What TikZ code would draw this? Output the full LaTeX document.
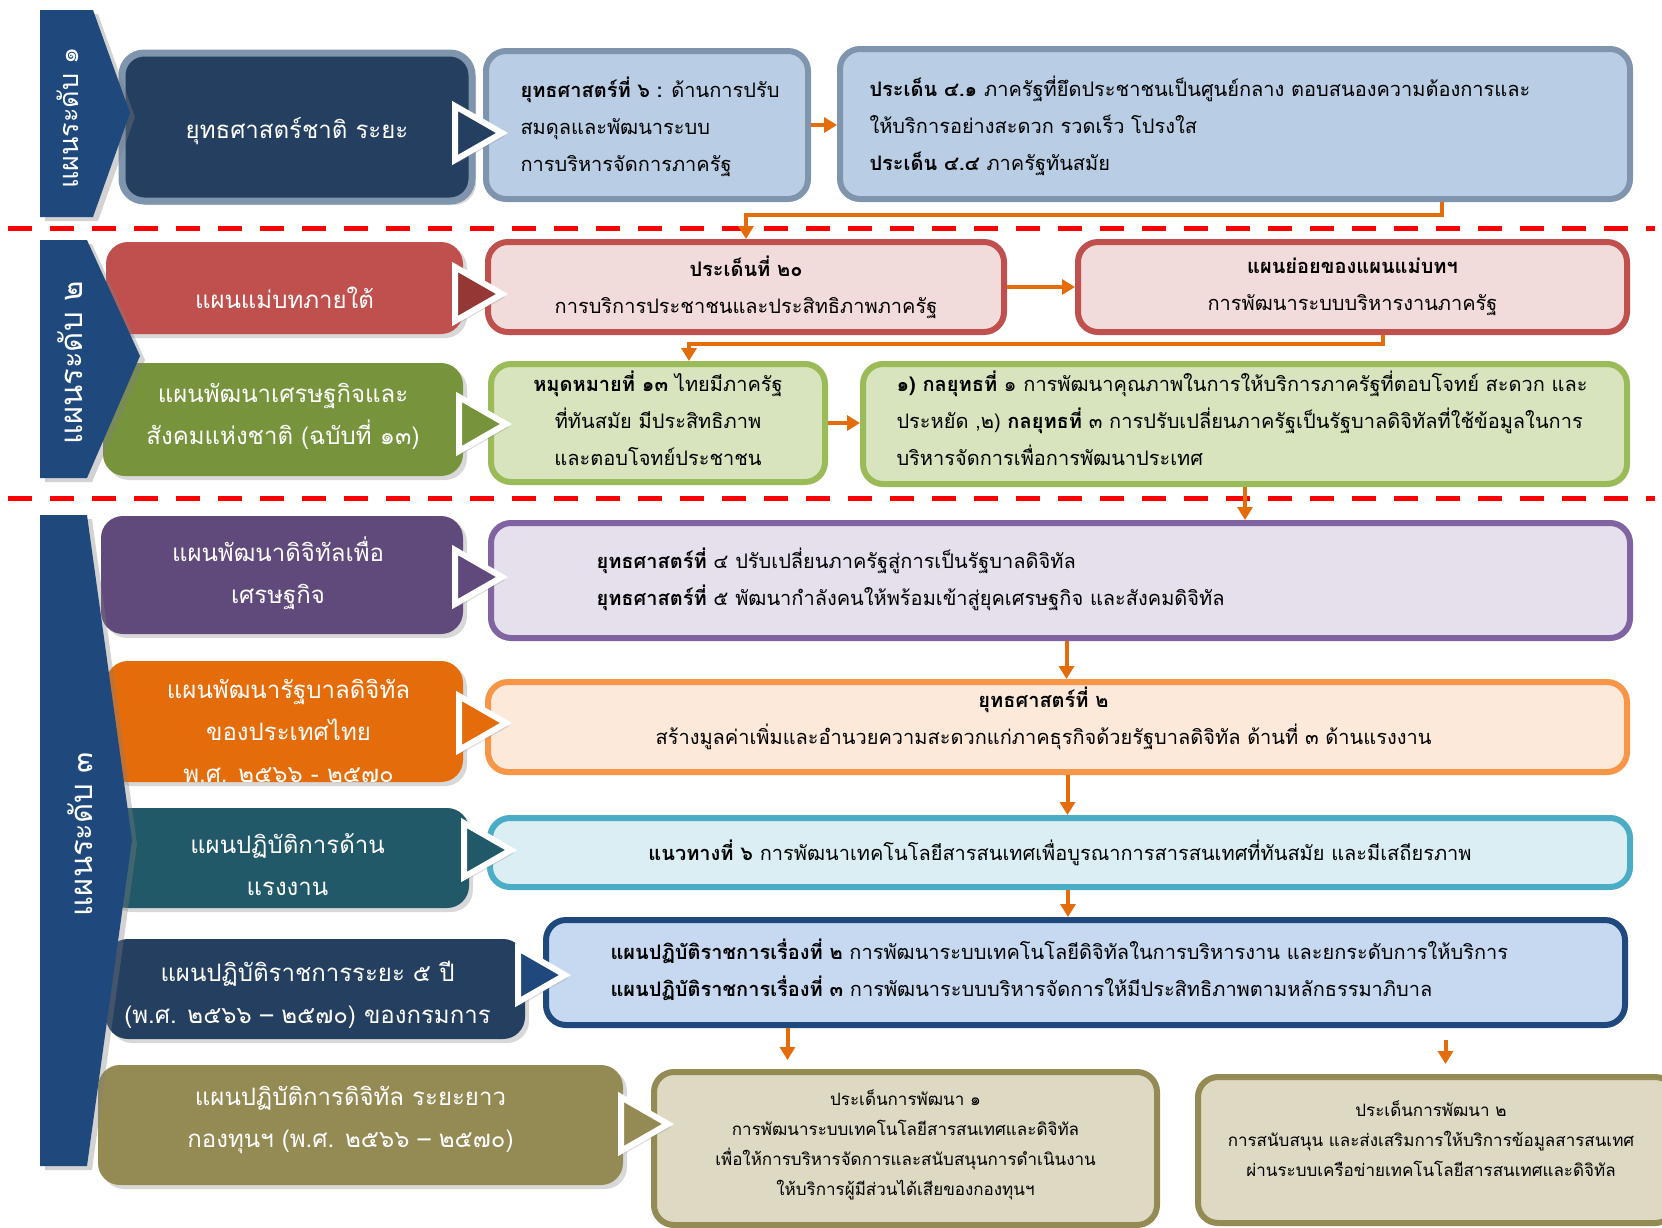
\documentclass[tikz,border=0pt]{standalone}
\usepackage{fontspec}
\setmainfont[Script=Thai]{Loma}
\usetikzlibrary{positioning}
\usetikzlibrary{calc}
\usetikzlibrary{arrows.meta}
\usetikzlibrary{shadows}

\definecolor{bannerblue}{HTML}{1F497D}
\definecolor{navyfill}{HTML}{243F60}
\definecolor{steelline}{HTML}{7E95AD}
\definecolor{skyfill}{HTML}{B9CDE5}
\definecolor{brickfill}{HTML}{C0504D}
\definecolor{brickdark}{HTML}{953735}
\definecolor{rosefill}{HTML}{F2DCDB}
\definecolor{olivefill}{HTML}{77933C}
\definecolor{limeline}{HTML}{9BBB59}
\definecolor{limefill}{HTML}{D7E4BD}
\definecolor{plumfill}{HTML}{604A7B}
\definecolor{lilacline}{HTML}{8064A2}
\definecolor{lilacfill}{HTML}{E5E0EC}
\definecolor{pumpkinfill}{HTML}{E46C0A}
\definecolor{apricotline}{HTML}{F79646}
\definecolor{apricotfill}{HTML}{FDE9D9}
\definecolor{tealfill}{HTML}{215968}
\definecolor{aqualine}{HTML}{4BACC6}
\definecolor{aquafill}{HTML}{DAEEF3}
\definecolor{palebluefill}{HTML}{C6D9F1}
\definecolor{khakifill}{HTML}{948A54}
\definecolor{sandfill}{HTML}{DDD9C3}
\definecolor{flowcolor}{HTML}{E46C0A}

\tikzset{
  planbox/.style={rounded corners=22pt, fill=#1,
    drop shadow={opacity=0.3, shadow xshift=4pt, shadow yshift=-4pt}},
  plantext/.style={text=white, align=center, font=\fontsize{24}{42}\selectfont},
  itembox/.style 2 args={rounded corners=20pt, draw=#1, fill=#2, line width=6pt,
    align=center, font=\fontsize{20}{37}\selectfont},
  itemtext/.style={align=left, font=\fontsize{20}{37}\selectfont},
  leveltext/.style={rotate=90, text=white},
  banner/.style={fill=bannerblue, drop shadow={opacity=0.35, shadow xshift=5pt, shadow yshift=-4pt}},
  navtri/.style={draw=white, line width=6pt, line join=miter,
    drop shadow={opacity=0.3, shadow xshift=3pt, shadow yshift=-3pt}},
  flowarrow/.style={draw=flowcolor, line width=4pt, -{Triangle[width=15pt,length=13pt]}},
  levelsep/.style={draw=red, line width=5pt, dash pattern=on 24pt off 18pt},
}

\newcommand{\navpointer}[3]{%
  \filldraw[navtri, fill=#3] (#1-52,#2-27) -- (#1-5,#2) -- (#1-52,#2+27) -- cycle;}

\begin{document}
\begin{tikzpicture}[x=1pt, y=-1pt]
  \fill[white] (0,0) rectangle (1662,1227);
  \useasboundingbox (0,0) rectangle (1662,1227);

  % separators between the levels
  \draw[levelsep] (8,228) -- (1655,228);
  \draw[levelsep] (8,498) -- (1655,498);

  % level 1
  \node[planbox=navyfill, draw=steelline, line width=7pt, minimum width=350pt, minimum height=148pt] (a1) at (297,127) {};
  \node[plantext] (a1txt) at ([yshift=-4pt]a1.center) {ยุทธศาสตร์ชาติ ระยะ};
  \node[itembox={steelline}{skyfill}, minimum width=322pt, minimum height=148pt] (b1) at (647,125) {};
  \node[itemtext, anchor=west] (b1txt) at ([xshift=34pt, yshift=-2pt]b1.west) {\textbf{ยุทธศาสตร์ที่ ๖ :} ด้านการปรับ\\สมดุลและพัฒนาระบบ\\การบริหารจัดการภาครัฐ};
  \node[itembox={steelline}{skyfill}, minimum width=790pt, minimum height=150pt] (c1) at (1235,124) {};
  \node[itemtext, anchor=west] (c1txt) at ([xshift=29pt, yshift=-2pt]c1.west) {\textbf{ประเด็น ๔.๑} ภาครัฐที่ยึดประชาชนเป็นศูนย์กลาง ตอบสนองความต้องการและ\\ให้บริการอย่างสะดวก รวดเร็ว โปรงใส\\\textbf{ประเด็น ๔.๔} ภาครัฐทันสมัย};

  % level 2
  \node[planbox=brickfill, minimum width=357pt, minimum height=92pt] (a2) at (284.5,288) {};
  \node[plantext] (a2txt) at ([yshift=-10pt]a2.center) {แผนแม่บทภายใต้};
  \node[itembox={brickfill}{rosefill}, minimum width=516pt, minimum height=90pt] (b2) at (746,287) {\textbf{ประเด็นที่ ๒๐}\\การบริการประชาชนและประสิทธิภาพภาครัฐ};
  \node[itembox={brickfill}{rosefill}, minimum width=549pt, minimum height=90pt] (c2) at (1352.5,287) {\textbf{แผนย่อยของแผนแม่บทฯ}\\การพัฒนาระบบบริหารงานภาครัฐ};

  \node[planbox=olivefill, minimum width=360pt, minimum height=113pt] (a3) at (283,419.5) {};
  \node[plantext] (a3txt) at ([yshift=3pt]a3.center) {แผนพัฒนาเศรษฐกิจและ\\สังคมแห่งชาติ (ฉบับที่ ๑๓)};
  \node[itembox={limeline}{limefill}, minimum width=334pt, minimum height=118pt] (b3) at (658,423) {};
  \node[itemtext, align=center] (b3txt) at ([yshift=5pt]b3.center) {\textbf{หมุดหมายที่ ๑๓} ไทยมีภาครัฐ\\ที่ทันสมัย มีประสิทธิภาพ\\และตอบโจทย์ประชาชน};
  \node[itembox={limeline}{limefill}, minimum width=764pt, minimum height=120pt] (c3) at (1245,424) {};
  \node[itemtext, anchor=west] (c3txt) at ([xshift=33pt, yshift=6pt]c3.west) {\textbf{๑) กลยุทธที่} ๑ การพัฒนาคุณภาพในการให้บริการภาครัฐที่ตอบโจทย์ สะดวก และ\\ประหยัด ,๒) \textbf{กลยุทธที่} ๓ การปรับเปลี่ยนภาครัฐเป็นรัฐบาลดิจิทัลที่ใช้ข้อมูลในการ\\บริหารจัดการเพื่อการพัฒนาประเทศ};

  % level 3
  \node[planbox=plumfill, minimum width=362pt, minimum height=118pt] (a4) at (282,575) {};
  \node[plantext] (a4txt) at ([xshift=-4pt, yshift=2pt]a4.center) {แผนพัฒนาดิจิทัลเพื่อ\\เศรษฐกิจ};
  \node[itembox={lilacline}{lilacfill}, minimum width=1139pt, minimum height=115pt] (b4) at (1060.5,580.5) {};
  \node[itemtext, anchor=west] (b4txt) at ([xshift=105pt, yshift=1pt]b4.west) {\textbf{ยุทธศาสตร์ที่} ๔ ปรับเปลี่ยนภาครัฐสู่การเป็นรัฐบาลดิจิทัล\\\textbf{ยุทธศาสตร์ที่} ๕ พัฒนากำลังคนให้พร้อมเข้าสู่ยุคเศรษฐกิจ และสังคมดิจิทัล};

  \node[planbox=pumpkinfill, minimum width=357pt, minimum height=121pt] (a5) at (284.5,721.5) {};
  \begin{scope}
    \clip (a5.south west) rectangle (a5.north east);
    \node[plantext] (a5txt) at ([xshift=4pt, yshift=-9pt]a5.center) {แผนพัฒนารัฐบาลดิจิทัล\\ของประเทศไทย\\พ.ศ. ๒๕๖๖ - ๒๕๗๐};
  \end{scope}
  \node[itembox={apricotline}{apricotfill}, minimum width=1139pt, minimum height=90pt] (b5) at (1057.5,727) {};
  \node[itemtext, align=center] (b5txt) at ([xshift=-14pt, yshift=9pt]b5.center) {\textbf{ยุทธศาสตร์ที่ ๒}\\สร้างมูลค่าเพิ่มและอำนวยความสะดวกแก่ภาคธุรกิจด้วยรัฐบาลดิจิทัล ด้านที่ ๓ ด้านแรงงาน};

  \node[planbox=tealfill, minimum width=363pt, minimum height=100pt] (a6) at (287.5,858) {};
  \node[plantext] (a6txt) at ([yshift=-7pt]a6.center) {แผนปฏิบัติการด้าน\\แรงงาน};
  \node[itembox={aqualine}{aquafill}, minimum width=1140pt, minimum height=69pt] (b6) at (1060,852.5) {\textbf{แนวทางที่ ๖} การพัฒนาเทคโนโลยีสารสนเทศเพื่อบูรณาการสารสนเทศที่ทันสมัย และมีเสถียรภาพ};

  \node[planbox=navyfill, minimum width=419pt, minimum height=100pt] (a7) at (315.5,989) {};
  \node[plantext] (a7txt) at ([xshift=-8pt, yshift=-6pt]a7.center) {แผนปฏิบัติราชการระยะ ๕ ปี\\(พ.ศ. ๒๕๖๖ – ๒๕๗๐) ของกรมการ};
  \node[itembox={bannerblue}{palebluefill}, minimum width=1079pt, minimum height=105pt] (b7) at (1085.5,972.5) {};
  \node[itemtext, anchor=west] (b7txt) at ([xshift=64pt, yshift=3pt]b7.west) {\textbf{แผนปฏิบัติราชการเรื่องที่ ๒} การพัฒนาระบบเทคโนโลยีดิจิทัลในการบริหารงาน และยกระดับการให้บริการ\\\textbf{แผนปฏิบัติราชการเรื่องที่ ๓} การพัฒนาระบบบริหารจัดการให้มีประสิทธิภาพตามหลักธรรมาภิบาล};

  \node[planbox=khakifill, minimum width=525pt, minimum height=120pt] (a8) at (360.5,1125) {};
  \node[plantext] (a8txt) at ([xshift=-10pt, yshift=5pt]a8.center) {แผนปฏิบัติการดิจิทัล ระยะยาว\\กองทุนฯ (พ.ศ. ๒๕๖๖ – ๒๕๗๐)};
  \node[itembox={khakifill}{sandfill}, minimum width=503pt, minimum height=153pt] (b8) at (905.5,1148.5) {};
  \node[itemtext, align=center, font=\fontsize{17}{30}\selectfont] (b8txt) at ([yshift=4pt]b8.center) {ประเด็นการพัฒนา ๑\\การพัฒนาระบบเทคโนโลยีสารสนเทศและดิจิทัล\\เพื่อให้การบริหารจัดการและสนับสนุนการดำเนินงาน\\ให้บริการผู้มีส่วนได้เสียของกองทุนฯ};
  \node[itembox={khakifill}{sandfill}, minimum width=477pt, minimum height=146pt] (b9) at (1436.5,1150) {};
  \node[itemtext, align=center, font=\fontsize{17}{30}\selectfont] (b9txt) at (1431,1139) {ประเด็นการพัฒนา ๒\\การสนับสนุน และส่งเสริมการให้บริการข้อมูลสารสนเทศ\\ผ่านระบบเครือข่ายเทคโนโลยีสารสนเทศและดิจิทัล};

  % pointers from the plans
  \navpointer{507}{133}{navyfill}
  \navpointer{507}{294}{brickdark}
  \navpointer{511}{424}{olivefill}
  \navpointer{507}{577}{plumfill}
  \navpointer{511}{723}{pumpkinfill}
  \navpointer{516}{850}{tealfill}
  \navpointer{570}{975}{bannerblue}
  \navpointer{673}{1124}{khakifill}

  % level banners
  \fill[banner] (40,10) -- (93,10) -- (130,113) -- (93,217) -- (40,217) -- cycle;
  \node[leveltext, font=\fontsize{27}{30}\selectfont] (lv1) at (68,118) {แผนระดับ ๑};
  \fill[banner] (40,240) -- (87,240) -- (140,356) -- (87,478) -- (40,478) -- cycle;
  \node[leveltext, font=\fontsize{31}{34}\selectfont] (lv2) at (70,363) {แผนระดับ ๒};
  \fill[banner] (40,515) -- (87,515) -- (132,840) -- (87,1166) -- (40,1166) -- cycle;
  \node[leveltext, font=\fontsize{31}{34}\selectfont] (lv3) at (80,834) {แผนระดับ ๓};

  % links
  \draw[flowarrow] (b1.east) -- (b1.east -| c1.west);
  \draw[flowarrow] ([xshift=207pt]c1.south) -- ++(0,13) -| (b2.north);
  \draw[flowarrow] (b2.east) -- (b2.east -| c2.west);
  \coordinate (c2out) at ([xshift=30pt]c2.south);
  \coordinate (b3in) at ([xshift=31pt]b3.north);
  \draw[flowarrow] (c2out) -- ++(0,9) -| (b3in);
  \draw[flowarrow] (b3.east) -- (b3.east -| c3.west);
  \draw[flowarrow] (c3.south) -- (c3.south |- b4.north);
  \coordinate (b4out) at ([xshift=6pt]b4.south);
  \draw[flowarrow] (b4out) -- (b4out |- b5.north);
  \coordinate (b5out) at ([xshift=10pt]b5.south);
  \draw[flowarrow] (b5out) -- (b5out |- b6.north);
  \coordinate (b6out) at ([xshift=8pt]b6.south);
  \draw[flowarrow] (b6out) -- (b6out |- b7.north);
  \coordinate (b7left) at ([xshift=-298pt]b7.south);
  \draw[flowarrow, shorten >=9pt] (b7left) -- (b7left |- b8.north);
  \coordinate (b7right) at ([xshift=360pt]b7.south);
  \draw[flowarrow, shorten <=12pt, shorten >=10pt] (b7right) -- (b7right |- b9.north);
\end{tikzpicture}
\end{document}
